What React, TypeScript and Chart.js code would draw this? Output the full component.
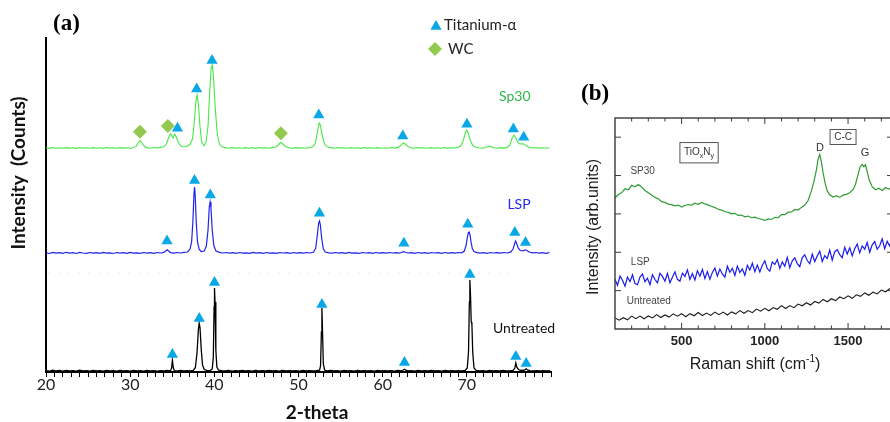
import React, { useEffect, useRef } from "react";
import { Chart, registerables } from "chart.js";

Chart.register(...registerables);

// ---------------- Panel (a): XRD ----------------
const XRD_TICK_LABELS = [20, 30, 40, 50, 60, 70];

const XRD_UNTREATED: number[][] = [
  [20, 14], [20.4, 8], [20.8, 18], [21.2, 10], [21.6, 15], [22, 9], [22.4, 17], [22.8, 11], [23.2, 14], [23.6, 8],
  [24, 19], [24.4, 10], [24.8, 13], [25.2, 9], [25.6, 16], [26, 11], [26.4, 14], [26.8, 8], [27.2, 17], [27.6, 10],
  [28, 13], [28.4, 9], [28.8, 15], [29.2, 11], [29.6, 14], [30, 9], [30.4, 16], [30.8, 10], [31.2, 13], [31.6, 9],
  [32, 15], [32.4, 11], [32.8, 14], [33.2, 9], [33.6, 13], [34, 10], [34.4, 15], [34.8, 12], [34.92, 40], [35.02, 120],
  [35.12, 45], [35.25, 14], [35.6, 11], [36, 15], [36.4, 10], [36.8, 13], [37.2, 11], [37.5, 16], [37.75, 45], [37.95, 200],
  [38.1, 420], [38.2, 490], [38.3, 440], [38.45, 220], [38.6, 70], [38.8, 25], [39.1, 16], [39.5, 14], [39.75, 30], [39.88, 150],
  [39.97, 650], [40.02, 840], [40.08, 700], [40.18, 220], [40.3, 50], [40.5, 18], [40.9, 13], [41.3, 10], [41.7, 15], [42.1, 9],
  [42.5, 14], [42.9, 11], [43.3, 16], [43.7, 10], [44.1, 13], [44.5, 9], [44.9, 15], [45.3, 11], [45.7, 14], [46.1, 10],
  [46.5, 16], [46.9, 11], [47.3, 13], [47.7, 9], [48.1, 15], [48.5, 10], [48.9, 14], [49.3, 11], [49.7, 13], [50.1, 9],
  [50.5, 15], [50.9, 11], [51.3, 14], [51.7, 10], [52.1, 13], [52.5, 18], [52.62, 60], [52.72, 400], [52.78, 640], [52.85, 420],
  [52.95, 80], [53.1, 20], [53.4, 12], [53.8, 15], [54.2, 10], [54.6, 14], [55, 9], [55.4, 16], [55.8, 11], [56.2, 13],
  [56.6, 9], [57, 15], [57.4, 10], [57.8, 14], [58.2, 11], [58.6, 13], [59, 9], [59.4, 15], [59.8, 10], [60.2, 14],
  [60.6, 11], [61, 13], [61.4, 9], [61.8, 15], [62.2, 12], [62.45, 20], [62.6, 28], [62.75, 18], [63, 12], [63.4, 14],
  [63.8, 9], [64.2, 15], [64.6, 11], [65, 13], [65.4, 10], [65.8, 15], [66.2, 11], [66.6, 14], [67, 9], [67.4, 15],
  [67.8, 10], [68.2, 13], [68.6, 11], [69, 14], [69.4, 10], [69.8, 16], [70.05, 40], [70.2, 200], [70.3, 700], [70.36, 920],
  [70.44, 760], [70.52, 500], [70.6, 480], [70.7, 200], [70.85, 40], [71.1, 16], [71.5, 12], [71.9, 14], [72.3, 9], [72.7, 15],
  [73.1, 11], [73.5, 13], [73.9, 10], [74.3, 15], [74.7, 11], [75.1, 13], [75.5, 16], [75.7, 40], [75.82, 90], [75.95, 45],
  [76.2, 20], [76.6, 15], [76.9, 22], [77.05, 32], [77.2, 20], [77.5, 14], [77.9, 10], [78.3, 14], [78.7, 11], [79.1, 13],
  [79.5, 10], [79.9, 14],
];

const XRD_LSP: number[][] = [
  [20, 1192], [20.4, 1185], [20.8, 1196], [21.2, 1188], [21.6, 1194], [22, 1186], [22.4, 1197], [22.8, 1189], [23.2, 1193], [23.6, 1185],
  [24, 1196], [24.4, 1190], [24.8, 1187], [25.2, 1195], [25.6, 1188], [26, 1193], [26.4, 1186], [26.8, 1196], [27.2, 1189], [27.6, 1192],
  [28, 1185], [28.4, 1195], [28.8, 1188], [29.2, 1193], [29.6, 1187], [30, 1196], [30.4, 1189], [30.8, 1192], [31.2, 1186], [31.6, 1195],
  [32, 1189], [32.4, 1193], [32.8, 1187], [33.2, 1195], [33.6, 1190], [34, 1196], [34.25, 1212], [34.4, 1222], [34.55, 1210], [34.8, 1194],
  [35.2, 1189], [35.6, 1195], [36, 1190], [36.4, 1196], [36.8, 1200], [37.1, 1225], [37.3, 1300], [37.45, 1500], [37.58, 1780], [37.65, 1850],
  [37.72, 1780], [37.85, 1500], [38.0, 1300], [38.2, 1225], [38.45, 1205], [38.8, 1210], [39.05, 1260], [39.25, 1420], [39.4, 1650], [39.5, 1700],
  [39.6, 1640], [39.75, 1420], [39.95, 1260], [40.2, 1210], [40.6, 1197], [41, 1190], [41.4, 1195], [41.8, 1188], [42.2, 1193], [42.6, 1186],
  [43, 1195], [43.4, 1189], [43.8, 1192], [44.2, 1186], [44.6, 1196], [45, 1189], [45.4, 1193], [45.8, 1187], [46.2, 1195], [46.6, 1189],
  [47, 1192], [47.4, 1186], [47.8, 1195], [48.2, 1190], [48.6, 1193], [49, 1187], [49.4, 1195], [49.8, 1189], [50.2, 1193], [50.6, 1188],
  [51, 1195], [51.4, 1190], [51.8, 1200], [52.05, 1240], [52.25, 1380], [52.4, 1490], [52.5, 1510], [52.6, 1470], [52.75, 1340], [52.95, 1230],
  [53.2, 1200], [53.6, 1192], [54, 1188], [54.4, 1195], [54.8, 1189], [55.2, 1193], [55.6, 1186], [56, 1196], [56.4, 1189], [56.8, 1192],
  [57.2, 1186], [57.6, 1195], [58, 1190], [58.4, 1193], [58.8, 1187], [59.2, 1195], [59.6, 1189], [60, 1193], [60.4, 1188], [60.8, 1195],
  [61.2, 1190], [61.6, 1193], [62, 1188], [62.3, 1198], [62.5, 1204], [62.7, 1197], [63, 1190], [63.4, 1194], [63.8, 1187], [64.2, 1195],
  [64.6, 1189], [65, 1193], [65.4, 1186], [65.8, 1195], [66.2, 1190], [66.6, 1193], [67, 1187], [67.4, 1195], [67.8, 1189], [68.2, 1193],
  [68.6, 1188], [69, 1195], [69.4, 1192], [69.7, 1210], [69.9, 1260], [70.05, 1340], [70.18, 1395], [70.27, 1400], [70.38, 1370], [70.5, 1300],
  [70.65, 1235], [70.85, 1205], [71.2, 1194], [71.6, 1189], [72, 1193], [72.4, 1187], [72.8, 1195], [73.2, 1190], [73.6, 1193], [74, 1188],
  [74.4, 1195], [74.8, 1190], [75.2, 1198], [75.5, 1230], [75.7, 1290], [75.8, 1310], [75.92, 1285], [76.1, 1240], [76.35, 1215], [76.7, 1212],
  [76.95, 1222], [77.1, 1218], [77.4, 1200], [77.8, 1192], [78.2, 1195], [78.6, 1188], [79, 1193], [79.4, 1187], [79.8, 1194],
];

const XRD_SP30: number[][] = [
  [20, 2242], [20.4, 2236], [20.8, 2245], [21.2, 2238], [21.6, 2243], [22, 2237], [22.4, 2244], [22.8, 2239], [23.2, 2242], [23.6, 2236],
  [24, 2245], [24.4, 2239], [24.8, 2243], [25.2, 2237], [25.6, 2244], [26, 2238], [26.4, 2242], [26.8, 2236], [27.2, 2245], [27.6, 2239],
  [28, 2243], [28.4, 2237], [28.8, 2244], [29.2, 2239], [29.6, 2242], [30, 2238], [30.4, 2245], [30.7, 2256], [30.95, 2290], [31.2, 2313],
  [31.45, 2285], [31.7, 2255], [32, 2244], [32.4, 2238], [32.8, 2245], [33.2, 2240], [33.6, 2246], [34, 2252], [34.3, 2280], [34.55, 2340],
  [34.8, 2385], [35.0, 2350], [35.1, 2340], [35.3, 2380], [35.5, 2345], [35.75, 2290], [36.0, 2262], [36.3, 2252], [36.7, 2255], [37.1, 2275],
  [37.4, 2330], [37.6, 2480], [37.8, 2700], [37.95, 2770], [38.1, 2680], [38.3, 2450], [38.5, 2300], [38.75, 2262], [39.0, 2290], [39.25, 2460],
  [39.45, 2800], [39.62, 3040], [39.75, 3070], [39.9, 2960], [40.1, 2650], [40.35, 2380], [40.6, 2280], [40.9, 2252], [41.3, 2244], [41.7, 2238],
  [42.1, 2245], [42.5, 2239], [42.9, 2243], [43.3, 2237], [43.7, 2244], [44.1, 2238], [44.5, 2242], [44.9, 2236], [45.3, 2245], [45.7, 2239],
  [46.1, 2243], [46.5, 2238], [46.9, 2246], [47.3, 2250], [47.6, 2270], [47.9, 2297], [48.2, 2275], [48.5, 2252], [48.9, 2243], [49.3, 2238],
  [49.7, 2244], [50.1, 2239], [50.5, 2243], [50.9, 2237], [51.3, 2245], [51.7, 2252], [52.0, 2290], [52.25, 2400], [52.42, 2480], [52.5, 2490],
  [52.62, 2460], [52.85, 2350], [53.1, 2280], [53.4, 2252], [53.8, 2244], [54.2, 2238], [54.6, 2245], [55, 2239], [55.4, 2243], [55.8, 2237],
  [56.2, 2244], [56.6, 2238], [57, 2242], [57.4, 2236], [57.8, 2245], [58.2, 2239], [58.6, 2243], [59, 2237], [59.4, 2244], [59.8, 2238],
  [60.2, 2242], [60.6, 2237], [61, 2245], [61.4, 2239], [61.8, 2246], [62.1, 2262], [62.35, 2284], [62.5, 2290], [62.7, 2278], [62.95, 2256],
  [63.3, 2244], [63.7, 2238], [64.1, 2245], [64.5, 2239], [64.9, 2243], [65.3, 2237], [65.7, 2244], [66.1, 2238], [66.5, 2242], [66.9, 2237],
  [67.3, 2245], [67.7, 2239], [68.1, 2243], [68.5, 2240], [68.9, 2246], [69.3, 2262], [69.6, 2320], [69.85, 2400], [70.0, 2420], [70.15, 2395],
  [70.4, 2320], [70.7, 2265], [71.0, 2250], [71.4, 2243], [71.8, 2238], [72.2, 2245], [72.5, 2252], [72.7, 2258], [72.9, 2252], [73.2, 2242],
  [73.6, 2238], [74, 2244], [74.4, 2239], [74.8, 2246], [75.1, 2268], [75.35, 2330], [75.6, 2370], [75.8, 2345], [76.05, 2295], [76.3, 2280],
  [76.55, 2282], [76.8, 2280], [77.05, 2262], [77.4, 2248], [77.8, 2240], [78.2, 2245], [78.6, 2239], [79, 2243], [79.4, 2237], [79.8, 2242],
];

const XRD_FAINT_RED: number[][] = [[20.3, 990], [75.2, 990]];

// Phase markers (2-theta, intensity)
const TI_ALPHA_UNTREATED: number[][] = [
  [35.02, 174], [38.21, 534], [40.02, 894], [52.78, 674], [62.59, 94], [70.36, 974], [75.82, 154], [77.05, 84],
];
const TI_ALPHA_LSP: number[][] = [
  [34.38, 1311], [37.65, 1914], [39.52, 1771], [52.49, 1587], [62.52, 1287], [70.11, 1477], [75.7, 1394], [76.97, 1294],
];
const TI_ALPHA_SP30: number[][] = [
  [35.62, 2437], [37.9, 2831], [39.73, 3114], [52.41, 2571], [62.39, 2361], [70.01, 2477], [75.53, 2431], [76.76, 2347],
];
const WC_SP30: number[][] = [[31.16, 2403], [34.47, 2460], [47.91, 2387]];

// ---------------- Panel (b): Raman ----------------
const RAMAN_TICK_LABELS = [500, 1000, 1500];
const RAMAN_MINOR_TICKS = [200, 300, 400, 500, 600, 700, 800, 900, 1000, 1100, 1200, 1300, 1400, 1500, 1600, 1700];
const RAMAN_Y_TICKS = [20, 40, 60, 80, 100];

const RAMAN_SP30: number[][] = [
  [100, 68.2], [120, 70.1], [140, 71.0], [160, 73.2], [180, 72.6], [200, 74.9], [220, 74.1], [240, 75.3], [260, 74.0], [280, 72.2],
  [300, 71.0], [320, 69.8], [340, 68.6], [360, 67.9], [380, 66.4], [400, 66.0], [420, 65.1], [440, 64.8], [460, 64.2], [480, 64.6],
  [500, 63.6], [520, 64.4], [540, 64.9], [560, 64.6], [580, 65.6], [600, 65.0], [620, 66.0], [640, 65.2], [660, 64.6], [680, 64.0],
  [700, 63.3], [720, 62.4], [740, 62.0], [760, 61.1], [780, 60.8], [800, 60.0], [820, 60.3], [840, 59.2], [860, 59.4], [880, 58.5],
  [900, 58.9], [920, 58.0], [940, 58.3], [960, 57.6], [980, 57.2], [1000, 56.6], [1020, 57.4], [1040, 57.1], [1060, 58.2], [1080, 58.0],
  [1100, 59.6], [1120, 59.6], [1140, 60.9], [1160, 61.0], [1180, 62.3], [1200, 62.0], [1220, 63.4], [1240, 64.6], [1260, 67.0], [1280, 72.0],
  [1295, 77.0], [1310, 83.0], [1320, 88.5], [1330, 91.0], [1340, 87.0], [1350, 81.5], [1362, 76.0], [1375, 72.0], [1390, 70.0], [1410, 68.8],
  [1430, 69.5], [1450, 68.6], [1470, 69.8], [1490, 70.2], [1510, 71.0], [1530, 72.6], [1545, 75.5], [1560, 80.5], [1572, 84.5], [1585, 85.8],
  [1595, 84.6], [1605, 85.6], [1615, 82.0], [1628, 77.5], [1645, 74.2], [1665, 72.6], [1685, 73.4], [1705, 72.2], [1725, 73.8], [1745, 72.9],
  [1765, 73.7], [1780, 73.2],
];

const RAMAN_LSP: number[][] = [
  [100, 26.0], [115, 22.8], [130, 27.6], [145, 25.4], [160, 22.3], [175, 27.1], [190, 24.7], [205, 28.3], [220, 23.7], [235, 23.1],
  [250, 27.1], [265, 28.7], [280, 24.7], [295, 26.5], [310, 23.1], [325, 28.3], [340, 25.8], [355, 24.0], [370, 29.0], [385, 27.4],
  [400, 24.9], [415, 29.0], [430, 24.1], [445, 27.0], [460, 29.8], [475, 25.9], [490, 24.9], [505, 29.1], [520, 27.4], [535, 30.8],
  [550, 25.9], [565, 28.9], [580, 25.5], [595, 30.4], [610, 27.5], [625, 31.0], [640, 26.3], [655, 29.9], [670, 26.0], [685, 29.5],
  [700, 31.8], [715, 27.6], [730, 31.3], [745, 28.7], [760, 27.0], [775, 32.7], [790, 29.6], [805, 31.6], [820, 27.9], [835, 32.8],
  [850, 29.5], [865, 31.3], [880, 28.0], [895, 33.2], [910, 30.7], [925, 34.3], [940, 29.9], [955, 33.3], [970, 29.7], [985, 33.2],
  [1000, 35.6], [1015, 31.4], [1030, 30.2], [1045, 35.0], [1060, 33.6], [1075, 36.2], [1090, 31.6], [1105, 35.0], [1120, 32.7], [1135, 37.3],
  [1150, 32.0], [1165, 35.5], [1180, 37.1], [1195, 34.1], [1210, 32.5], [1225, 37.2], [1240, 38.7], [1255, 35.7], [1270, 34.1], [1285, 39.1],
  [1300, 35.2], [1315, 38.1], [1330, 40.6], [1345, 35.2], [1360, 38.3], [1375, 36.7], [1390, 41.2], [1405, 35.9], [1420, 40.3], [1435, 41.3],
  [1450, 38.8], [1465, 37.2], [1480, 42.6], [1495, 39.1], [1510, 42.3], [1525, 38.1], [1540, 41.8], [1555, 44.3], [1570, 39.7], [1585, 43.3],
  [1600, 41.6], [1615, 45.1], [1630, 40.0], [1645, 43.9], [1660, 45.6], [1675, 41.6], [1690, 43.4], [1705, 47.0], [1720, 41.9], [1735, 45.7],
  [1750, 43.3], [1765, 47.5], [1780, 44.5],
];

const RAMAN_UNTREATED: number[][] = [
  [100, 5.8], [125, 4.6], [150, 5.9], [175, 4.8], [200, 6.7], [225, 5.4], [250, 6.7], [275, 5.3], [300, 6.8], [325, 5.8],
  [350, 7.5], [375, 6.0], [400, 7.3], [425, 6.2], [450, 7.9], [475, 6.7], [500, 8.0], [525, 6.4], [550, 8.0], [575, 6.9],
  [600, 8.6], [625, 7.0], [650, 8.3], [675, 7.1], [700, 8.8], [725, 7.5], [750, 8.8], [775, 7.3], [800, 8.9], [825, 7.9],
  [850, 9.6], [875, 8.2], [900, 9.6], [925, 8.5], [950, 10.4], [975, 9.3], [1000, 10.8], [1025, 9.5], [1050, 11.2], [1075, 10.3],
  [1100, 12.2], [1125, 10.7], [1150, 12.2], [1175, 11.1], [1200, 13.0], [1225, 12.1], [1250, 13.7], [1275, 12.5], [1300, 14.4], [1325, 13.5],
  [1350, 15.4], [1375, 14.2], [1400, 15.8], [1425, 14.8], [1450, 16.7], [1475, 15.8], [1500, 17.3], [1525, 16.0], [1550, 17.8], [1575, 17.0],
  [1600, 18.8], [1625, 17.6], [1650, 19.2], [1675, 18.3], [1700, 20.3], [1725, 19.4], [1750, 21.1], [1775, 20.2],
];

// ---------------- helpers ----------------
const pts = (arr: number[][]) => arr.map(([x, y]) => ({ x, y }));

function fillTriangle(ctx: CanvasRenderingContext2D, x: number, y: number, r: number, color: string) {
  ctx.beginPath();
  ctx.moveTo(x, y - r);
  ctx.lineTo(x + r * 0.866, y + r * 0.5);
  ctx.lineTo(x - r * 0.866, y + r * 0.5);
  ctx.closePath();
  ctx.fillStyle = color;
  ctx.fill();
}
function fillDiamond(ctx: CanvasRenderingContext2D, x: number, y: number, r: number, color: string) {
  ctx.beginPath();
  ctx.moveTo(x - r, y);
  ctx.lineTo(x, y - r);
  ctx.lineTo(x + r, y);
  ctx.lineTo(x, y + r);
  ctx.closePath();
  ctx.fillStyle = color;
  ctx.fill();
}

const TRI_COLOR = "#08A8E8";
const WC_COLOR = "#92C94E";

const xrdDecor = {
  id: "xrdDecor",
  afterDraw(chart: any) {
    const { ctx, scales } = chart;
    const x = scales.x;
    const y = scales.y;
    ctx.save();
    ctx.textBaseline = "middle";
    // panel label
    ctx.fillStyle = "#000";
    ctx.textAlign = "left";
    ctx.font = 'bold 23px "Liberation Serif"';
    ctx.fillText("(a)", 53, 24);
    // legend
    ctx.font = '15px "Lato"';
    fillTriangle(ctx, 436, 26.5, 6.5, TRI_COLOR);
    ctx.fillStyle = "#222";
    ctx.fillText("Titanium-\u03b1", 444, 25);
    fillDiamond(ctx, 435, 49, 7, WC_COLOR);
    ctx.fillStyle = "#222";
    ctx.fillText("WC", 448, 49);
    // series labels
    ctx.textAlign = "center";
    ctx.font = '14px "Lato"';
    ctx.fillStyle = "#2FB54B";
    ctx.fillText("Sp30", x.getPixelForValue(75.7), y.getPixelForValue(2760));
    ctx.fillStyle = "#2525F5";
    ctx.fillText("LSP", x.getPixelForValue(76.2), y.getPixelForValue(1680));
    ctx.fillStyle = "#111";
    ctx.fillText("Untreated", x.getPixelForValue(76.8), y.getPixelForValue(440));
    // axis titles
    ctx.font = 'bold 19px "Lato"';
    ctx.fillStyle = "#111";
    ctx.fillText("2-theta", 317, 413);
    ctx.translate(19, 173);
    ctx.rotate(-Math.PI / 2);
    ctx.fillText("Intensity  (Counts)", 0, 0);
    ctx.restore();
  },
};

const ramanDecor = {
  id: "ramanDecor",
  afterDraw(chart: any) {
    const { ctx, chartArea: ca, scales } = chart;
    const x = scales.x;
    const y = scales.y;
    ctx.save();
    // frame
    ctx.strokeStyle = "#3a3a3a";
    ctx.lineWidth = 1.4;
    ctx.strokeRect(ca.left, ca.top, ca.right - ca.left, ca.bottom - ca.top);
    ctx.lineWidth = 1;
    ctx.beginPath();
    for (const v of RAMAN_MINOR_TICKS) {
      const px = x.getPixelForValue(v);
      const len = RAMAN_TICK_LABELS.includes(v) ? 6 : 3.5;
      ctx.moveTo(px, ca.bottom);
      ctx.lineTo(px, ca.bottom - len);
      ctx.moveTo(px, ca.top);
      ctx.lineTo(px, ca.top + len);
    }
    for (const v of RAMAN_Y_TICKS) {
      const py = y.getPixelForValue(v);
      ctx.moveTo(ca.left, py);
      ctx.lineTo(ca.left + 6, py);
      ctx.moveTo(ca.right, py);
      ctx.lineTo(ca.right - 6, py);
    }
    ctx.stroke();

    // panel label
    ctx.textBaseline = "middle";
    ctx.textAlign = "left";
    ctx.fillStyle = "#000";
    ctx.font = 'bold 23px "Liberation Serif"';
    ctx.fillText("(b)", 21, 94);

    // annotations
    ctx.fillStyle = "#444";
    ctx.textAlign = "center";
    ctx.font = '10px "Liberation Sans"';
    ctx.fillText("SP30", x.getPixelForValue(266), y.getPixelForValue(82.2));
    ctx.fillText("LSP", x.getPixelForValue(252), y.getPixelForValue(34.6));
    ctx.fillText("Untreated", x.getPixelForValue(303), y.getPixelForValue(14.4));
    ctx.font = '11px "Liberation Sans"';
    ctx.fillStyle = "#333";
    ctx.fillText("D", x.getPixelForValue(1332), y.getPixelForValue(94.3));
    ctx.fillText("G", x.getPixelForValue(1602), y.getPixelForValue(91.6));

    // TiOxNy box
    ctx.strokeStyle = "#555";
    ctx.lineWidth = 1;
    let bx0 = x.getPixelForValue(490), bx1 = x.getPixelForValue(720);
    let by0 = y.getPixelForValue(97.2), by1 = y.getPixelForValue(86.6);
    ctx.strokeRect(bx0, by0, bx1 - bx0, by1 - by0);
    ctx.textAlign = "left";
    const cy = (by0 + by1) / 2;
    let tx = bx0 + 4;
    ctx.font = '10px "Liberation Sans"';
    ctx.fillText("TiO", tx, cy);
    tx += ctx.measureText("TiO").width;
    ctx.font = '7px "Liberation Sans"';
    ctx.fillText("x", tx, cy + 3);
    tx += ctx.measureText("x").width;
    ctx.font = '10px "Liberation Sans"';
    ctx.fillText("N", tx, cy);
    tx += ctx.measureText("N").width;
    ctx.font = '7px "Liberation Sans"';
    ctx.fillText("y", tx, cy + 3);

    // C-C box
    bx0 = x.getPixelForValue(1392); bx1 = x.getPixelForValue(1548);
    by0 = y.getPixelForValue(104); by1 = y.getPixelForValue(96.2);
    ctx.strokeRect(bx0, by0, bx1 - bx0, by1 - by0);
    ctx.textAlign = "center";
    ctx.font = '10px "Liberation Sans"';
    ctx.fillText("C-C", (bx0 + bx1) / 2, (by0 + by1) / 2);

    // axis titles
    ctx.fillStyle = "#1a1a1a";
    const tcx = 195, tcy = 365;
    const main = "Raman shift (cm";
    ctx.font = '16px "Liberation Sans"';
    const w1 = ctx.measureText(main).width;
    ctx.font = '10px "Liberation Sans"';
    const w2 = ctx.measureText("-1").width;
    ctx.font = '16px "Liberation Sans"';
    const w3 = ctx.measureText(")").width;
    let sx = tcx - (w1 + w2 + w3) / 2;
    ctx.textAlign = "left";
    ctx.fillText(main, sx, tcy);
    sx += w1;
    ctx.font = '10px "Liberation Sans"';
    ctx.fillText("-1", sx, tcy - 6);
    sx += w2;
    ctx.font = '16px "Liberation Sans"';
    ctx.fillText(")", sx, tcy);

    ctx.textAlign = "center";
    ctx.translate(34, 227);
    ctx.rotate(-Math.PI / 2);
    ctx.fillText("Intensity (arb.units)", 0, 0);
    ctx.restore();
  },
};

export default function App() {
  const refA = useRef<HTMLCanvasElement>(null);
  const refB = useRef<HTMLCanvasElement>(null);

  useEffect(() => {
    const lineDs = (label: string, data: number[][], color: string, width: number, extra: any = {}) => ({
      type: "line",
      label,
      data: pts(data),
      borderColor: color,
      backgroundColor: color,
      borderWidth: width,
      pointRadius: 0,
      tension: 0,
      fill: false,
      order: 2,
      ...extra,
    });
    const markerDs = (label: string, data: number[][], style: string, r: number, color: string) => ({
      type: "line",
      label,
      data: pts(data),
      showLine: false,
      pointStyle: style,
      pointRadius: r,
      pointHoverRadius: r,
      pointBackgroundColor: color,
      pointBorderWidth: 0,
      borderWidth: 0,
      clip: false,
      order: 0,
    });

    const chartA = new Chart(refA.current as HTMLCanvasElement, {
      type: "line",
      data: {
        datasets: [
          markerDs("Titanium-\u03b1 (Untreated)", TI_ALPHA_UNTREATED, "triangle", 6.5, TRI_COLOR),
          markerDs("Titanium-\u03b1 (LSP)", TI_ALPHA_LSP, "triangle", 6.5, TRI_COLOR),
          markerDs("Titanium-\u03b1 (Sp30)", TI_ALPHA_SP30, "triangle", 6.5, TRI_COLOR),
          markerDs("WC", WC_SP30, "rectRot", 7, WC_COLOR),
          lineDs("Sp30", XRD_SP30, "#45E845", 1.1),
          lineDs("LSP", XRD_LSP, "#2222EE", 1.2),
          lineDs("Untreated", XRD_UNTREATED, "#000000", 1.3),
          lineDs("faint", XRD_FAINT_RED, "rgba(240,90,90,0.3)", 1, { borderDash: [1, 9] }),
        ] as any,
      },
      options: {
        responsive: false,
        animation: false,
        events: [],
        layout: { padding: { top: 38, right: 9, left: 0, bottom: 0 } },
        plugins: { legend: { display: false }, tooltip: { enabled: false } },
        scales: {
          x: {
            type: "linear",
            min: 20,
            max: 80,
            afterFit: (s: any) => { s.height = 50; },
            border: { display: true, color: "#000", width: 2 },
            grid: { display: true, drawOnChartArea: false, drawTicks: true, tickLength: 5, color: "#000", lineWidth: 1 },
            ticks: {
              stepSize: 1,
              autoSkip: false,
              maxRotation: 0,
              padding: -2,
              color: "#222",
              font: { family: "Lato", size: 16 },
              callback: (v: any) => (XRD_TICK_LABELS.includes(Number(v)) ? String(v) : ""),
            },
          },
          y: {
            type: "linear",
            min: 0,
            max: 3340,
            afterFit: (s: any) => { s.width = 46; },
            border: { display: true, color: "#000", width: 2 },
            grid: { display: false },
            ticks: { display: false },
          },
        },
      } as any,
      plugins: [xrdDecor],
    });

    const chartB = new Chart(refB.current as HTMLCanvasElement, {
      type: "line",
      data: {
        datasets: [
          lineDs("SP30", RAMAN_SP30, "#2E9B33", 1.2),
          lineDs("LSP", RAMAN_LSP, "#1A1AEE", 1.2),
          lineDs("Untreated", RAMAN_UNTREATED, "#1a1a1a", 1.1),
        ] as any,
      },
      options: {
        responsive: false,
        animation: false,
        events: [],
        layout: { padding: { top: 118, right: 67, left: 0, bottom: 0 } },
        plugins: { legend: { display: false }, tooltip: { enabled: false } },
        scales: {
          x: {
            type: "linear",
            min: 100,
            max: 1770,
            afterFit: (s: any) => { s.height = 93; },
            border: { display: false },
            grid: { display: false, drawTicks: false },
            ticks: {
              stepSize: 100,
              autoSkip: false,
              maxRotation: 0,
              padding: 5,
              color: "#222",
              font: { family: "Liberation Sans", size: 13, weight: "bold" },
              callback: (v: any) => (RAMAN_TICK_LABELS.includes(Number(v)) ? String(v) : ""),
            },
          },
          y: {
            type: "linear",
            min: 0,
            max: 110,
            afterFit: (s: any) => { s.width = 55; },
            border: { display: false },
            grid: { display: false, drawTicks: false },
            ticks: { display: false },
          },
        },
      } as any,
      plugins: [ramanDecor],
    });

    return () => {
      chartA.destroy();
      chartB.destroy();
    };
  }, []);

  return (
    <div
      style={{
        position: "fixed",
        left: 0,
        top: 0,
        width: 890,
        height: 422,
        overflow: "hidden",
        background: "#fff",
      }}
    >
      <canvas
        ref={refA}
        width={560}
        height={422}
        style={{ position: "absolute", left: 0, top: 0, width: 560, height: 422 }}
      />
      <canvas
        ref={refB}
        width={400}
        height={422}
        style={{ position: "absolute", left: 560, top: 0, width: 400, height: 422 }}
      />
    </div>
  );
}
